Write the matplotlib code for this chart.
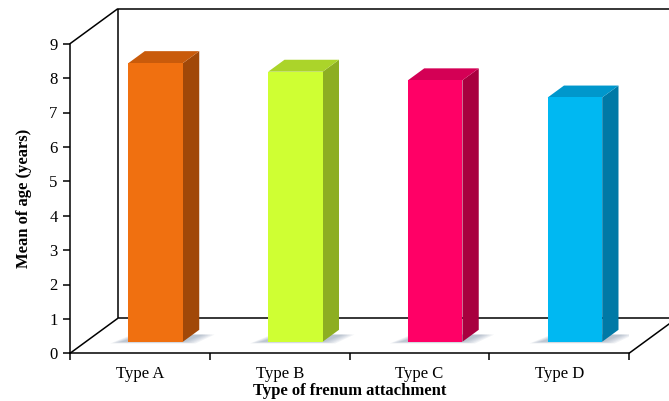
import matplotlib.pyplot as plt
from matplotlib.patches import Polygon

categories = ["Type A", "Type B", "Type C", "Type D"]
mean_age = [8.1, 7.85, 7.6, 7.1]
front_colors = ["#F07010", "#CFFF33", "#FF0066", "#00B8F2"]
side_colors = ["#A14808", "#8DAE22", "#A8003F", "#0079A6"]
top_colors = ["#C95B0B", "#ABD42A", "#D40055", "#0097CC"]

plt.rcParams["font.family"] = ["Liberation Serif", "DejaVu Serif"]

fig = plt.figure(figsize=(6.69, 4.01), dpi=100)
ax = fig.add_axes([70 / 669, (401 - 353.3) / 401, 559 / 669, 309.6 / 401])
ax.set_xlim(0, 4)
ax.set_ylim(0, 9)

# oblique offset of the back wall, in data units
ddx, ddy = 0.343, 1.02
line_kw = dict(color="black", lw=1.1, clip_on=False, zorder=1, solid_capstyle="butt")

# box: back wall and floor edges
ax.plot([0, ddx], [9, 9 + ddy], **line_kw)
ax.plot([ddx, 4 + ddx], [9 + ddy, 9 + ddy], **line_kw)
ax.plot([ddx, ddx], [ddy, 9 + ddy], **line_kw)
ax.plot([4 + ddx, 4 + ddx], [ddy, 9 + ddy], **line_kw)
ax.plot([0, ddx], [0, ddy], **line_kw)
ax.plot([ddx, 4 + ddx], [ddy, ddy], **line_kw)
ax.plot([4, 4 + ddx], [0, ddy], **line_kw)

# 3d-looking bars
w = 0.39
f0, f1 = 0.33, 0.67
dx, dy = (f1 - f0) * ddx, (f1 - f0) * ddy
for i, v in enumerate(mean_age):
    xc = i + 0.5 + f0 * ddx
    x0, x1 = xc - w / 2, xc + w / 2
    y0 = f0 * ddy
    y1 = y0 + v

    # soft shadow on the floor, stacked for a blurred edge
    for k in range(6):
        e = 0.09 - k * 0.016
        shadow = Polygon([(x0 - e - 0.04, y0 - 0.05 + k * 0.01), (x1 + e, y0 - 0.05 + k * 0.01),
                          (x1 + dx + e + 0.02, y0 + dy * 0.6),
                          (x0 + dx - e, y0 + dy * 0.6)],
                         closed=True, facecolor="#7A8CA4", edgecolor="none",
                         alpha=0.11, zorder=2)
        ax.add_patch(shadow)

    ax.bar(xc, v, width=w, bottom=y0, color=front_colors[i], zorder=4)
    side = Polygon([(x1, y0), (x1 + dx, y0 + dy), (x1 + dx, y1 + dy), (x1, y1)],
                   closed=True, facecolor=side_colors[i], edgecolor="none", zorder=3)
    top = Polygon([(x0, y1), (x1, y1), (x1 + dx, y1 + dy), (x0 + dx, y1 + dy)],
                  closed=True, facecolor=top_colors[i], edgecolor="none", zorder=3)
    ax.add_patch(side)
    ax.add_patch(top)

for s in ["top", "right"]:
    ax.spines[s].set_visible(False)
for s in ["left", "bottom"]:
    ax.spines[s].set_linewidth(1.1)
    ax.spines[s].set_zorder(1)

ax.set_yticks(range(10))
ax.tick_params(axis="y", direction="out", length=5, width=1.1, labelsize=12, pad=4)
ax.set_xticks(range(5))
ax.set_xticklabels([])
ax.tick_params(axis="x", which="major", direction="out", length=5, width=1.1)
ax.set_xticks([0.5, 1.5, 2.5, 3.5], minor=True)
ax.set_xticklabels(categories, minor=True)
ax.tick_params(axis="x", which="minor", length=0, labelsize=12, pad=9)

ax.set_xlabel("Type of frenum attachment", fontsize=12, fontweight="bold", labelpad=1)
ax.set_ylabel("Mean of age (years)", fontsize=12, fontweight="bold", labelpad=12)

fig.savefig("out.png", dpi=100)
